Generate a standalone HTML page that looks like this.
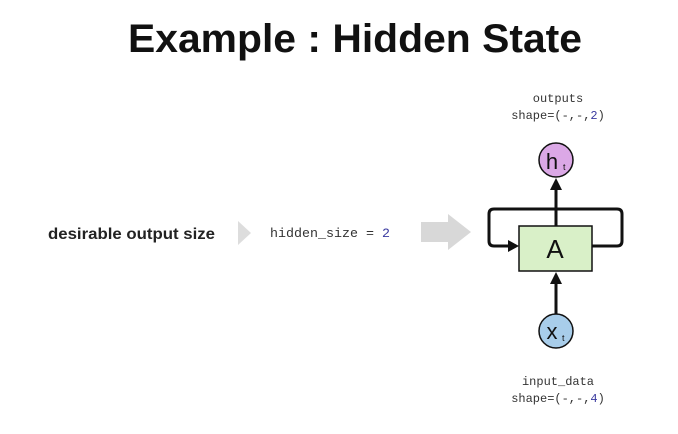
<!DOCTYPE html>
<html><head><style>
body{margin:0;width:678px;height:429px;background:#fff;overflow:hidden;font-family:"Liberation Sans",sans-serif}
</style></head><body>
<svg width="678" height="429" xmlns="http://www.w3.org/2000/svg">
<text x="355" y="52" text-anchor="middle" font-family="Liberation Sans" font-weight="bold" font-size="40" fill="#111" textLength="454" lengthAdjust="spacingAndGlyphs">Example : Hidden State</text>
<text x="48" y="239" font-family="Liberation Sans" font-weight="bold" font-size="16" fill="#222" textLength="167" lengthAdjust="spacingAndGlyphs">desirable output size</text>
<polygon points="238,221 251,233 238,245" fill="#ddd"/>
<text x="270" y="237" font-family="Liberation Mono" font-size="13" fill="#333" textLength="120" lengthAdjust="spacingAndGlyphs">hidden_size = <tspan fill="#3a3aa0">2</tspan></text>
<polygon points="421,222 448,222 448,214 471,232 448,250 448,242 421,242" fill="#d8d8d8"/>
<text x="558" y="102" text-anchor="middle" font-family="Liberation Mono" font-size="12" fill="#333">outputs</text>
<text x="558" y="119" text-anchor="middle" font-family="Liberation Mono" font-size="12" fill="#333">shape=(-,-,<tspan fill="#3a3aa0">2</tspan>)</text>
<text x="558" y="385" text-anchor="middle" font-family="Liberation Mono" font-size="12" fill="#333">input_data</text>
<text x="558" y="402" text-anchor="middle" font-family="Liberation Mono" font-size="12" fill="#333">shape=(-,-,<tspan fill="#3a3aa0">4</tspan>)</text>
<path d="M592,246 H617 Q622,246 622,241 V214 Q622,209 617,209 H494 Q489,209 489,214 V241 Q489,246 494,246 H508" fill="none" stroke="#111" stroke-width="3"/>
<polygon points="508,240 519,246 508,252" fill="#111"/>
<rect x="519" y="226" width="73" height="45" fill="#d9f0c8" stroke="#111" stroke-width="1.5"/>
<text x="555" y="258" text-anchor="middle" font-family="Liberation Sans" font-size="26" fill="#111">A</text>
<line x1="556" y1="226" x2="556" y2="188" stroke="#111" stroke-width="3"/>
<polygon points="550,190 556,178 562,190" fill="#111"/>
<line x1="556" y1="314" x2="556" y2="282" stroke="#111" stroke-width="3"/>
<polygon points="550,284 556,272 562,284" fill="#111"/>
<circle cx="556" cy="160" r="17" fill="#dba8e6" stroke="#111" stroke-width="1.5"/>
<text x="552" y="169" text-anchor="middle" font-family="Liberation Sans" font-size="22" fill="#111">h</text>
<text x="563" y="170" font-family="Liberation Sans" font-size="9" fill="#111">t</text>
<circle cx="556" cy="331" r="17" fill="#a8cdea" stroke="#111" stroke-width="1.5"/>
<text x="552" y="339" text-anchor="middle" font-family="Liberation Sans" font-size="22" fill="#111">x</text>
<text x="562" y="341" font-family="Liberation Sans" font-size="9" fill="#111">t</text>
</svg>
</body></html>
